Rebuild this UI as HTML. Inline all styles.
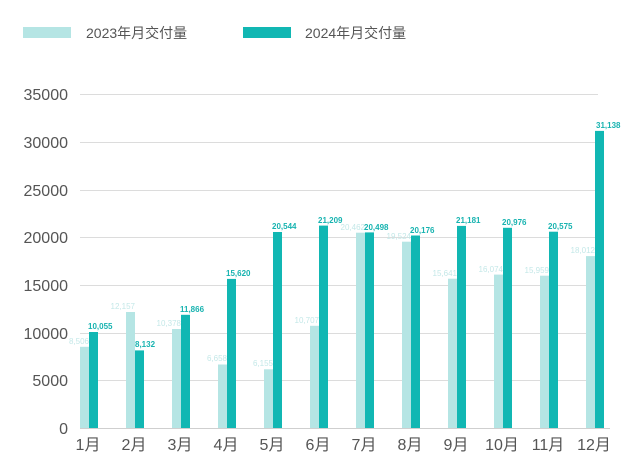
<!DOCTYPE html>
<html><head><meta charset="utf-8"><style>
html,body{margin:0;padding:0;background:#fff;}
svg{display:block;font-family:"Liberation Sans","Noto Sans CJK SC",sans-serif;}
.ax{fill:#555;font-size:16px;}
.lg{fill:#555;font-size:14px;}
.d{fill:#17b3b0;font-size:8px;font-weight:bold;}
.l{fill:#c4e8e8;font-size:8px;text-anchor:end;}
.gl{stroke:#dcdcdc;stroke-width:1;}
</style></head><body>
<svg width="640" height="475" viewBox="0 0 640 475" xmlns="http://www.w3.org/2000/svg">
<rect x="23" y="27" width="48" height="11" fill="#b5e5e4"/>
<text class="lg" x="86" y="38">2023年月交付量</text>
<rect x="243" y="27" width="48" height="11" fill="#11b7b3"/>
<text class="lg" x="305" y="38">2024年月交付量</text>

<g class="gl">
<line x1="80" y1="94.5" x2="598" y2="94.5"/>
<line x1="80" y1="142.5" x2="598" y2="142.5"/>
<line x1="80" y1="190.5" x2="598" y2="190.5"/>
<line x1="80" y1="237.5" x2="598" y2="237.5"/>
<line x1="80" y1="285.5" x2="598" y2="285.5"/>
<line x1="80" y1="333.5" x2="598" y2="333.5"/>
<line x1="80" y1="380.5" x2="598" y2="380.5"/>
<line x1="80" y1="428.5" x2="610" y2="428.5" stroke="#cfcfcf"/>
</g>
<g class="ax" text-anchor="end">
<text x="68" y="100">35000</text>
<text x="68" y="148">30000</text>
<text x="68" y="196">25000</text>
<text x="68" y="243">20000</text>
<text x="68" y="291">15000</text>
<text x="68" y="339">10000</text>
<text x="68" y="386">5000</text>
<text x="68" y="434">0</text>
</g>

<g fill="#b5e5e4">
<rect x="80" y="346.8" width="9" height="81.2"/>
<rect x="126" y="312" width="9" height="116"/>
<rect x="172" y="329" width="9" height="99"/>
<rect x="218" y="364.5" width="9" height="63.5"/>
<rect x="264" y="369.3" width="9" height="58.7"/>
<rect x="310" y="325.8" width="9" height="102.2"/>
<rect x="356" y="232.7" width="9" height="195.3"/>
<rect x="402" y="241.7" width="9" height="186.3"/>
<rect x="448" y="278.7" width="9" height="149.3"/>
<rect x="494" y="274.6" width="9" height="153.4"/>
<rect x="540" y="275.7" width="9" height="152.3"/>
<rect x="586" y="256.1" width="9" height="171.9"/>
</g>
<g fill="#11b7b3">
<rect x="89" y="332" width="9" height="96"/>
<rect x="135" y="350.4" width="9" height="77.6"/>
<rect x="181" y="314.8" width="9" height="113.2"/>
<rect x="227" y="278.9" width="9" height="149.1"/>
<rect x="273" y="232" width="9" height="196"/>
<rect x="319" y="225.6" width="9" height="202.4"/>
<rect x="365" y="232.4" width="9" height="195.6"/>
<rect x="411" y="235.5" width="9" height="192.5"/>
<rect x="457" y="225.9" width="9" height="202.1"/>
<rect x="503" y="227.8" width="9" height="200.2"/>
<rect x="549" y="231.7" width="9" height="196.3"/>
<rect x="595" y="130.9" width="9" height="297.1"/>
</g>

<text class="l" x="89" y="344">8,506</text>
<text class="l" x="135" y="309">12,157</text>
<text class="l" x="181" y="326">10,378</text>
<text class="l" x="227" y="361">6,658</text>
<text class="l" x="273" y="366">6,155</text>
<text class="l" x="319" y="323">10,707</text>
<text class="l" x="365" y="230">20,462</text>
<text class="l" x="411" y="239">19,524</text>
<text class="l" x="457" y="276">15,641</text>
<text class="l" x="503" y="272">16,074</text>
<text class="l" x="549" y="273">15,959</text>
<text class="l" x="595" y="253">18,012</text>

<text class="d" x="88" y="329">10,055</text>
<text class="d" x="135" y="347">8,132</text>
<text class="d" x="180" y="312">11,866</text>
<text class="d" x="226" y="276">15,620</text>
<text class="d" x="272" y="229">20,544</text>
<text class="d" x="318" y="223">21,209</text>
<text class="d" x="364" y="230">20,498</text>
<text class="d" x="410" y="233">20,176</text>
<text class="d" x="456" y="223">21,181</text>
<text class="d" x="502" y="225">20,976</text>
<text class="d" x="548" y="229">20,575</text>
<text class="d" x="596" y="128">31,138</text>

<g class="ax" text-anchor="middle">
<text x="88" y="450">1月</text>
<text x="134" y="450">2月</text>
<text x="180" y="450">3月</text>
<text x="226" y="450">4月</text>
<text x="272" y="450">5月</text>
<text x="318" y="450">6月</text>
<text x="364" y="450">7月</text>
<text x="410" y="450">8月</text>
<text x="456" y="450">9月</text>
<text x="502" y="450">10月</text>
<text x="548" y="450">11月</text>
<text x="594" y="450">12月</text>
</g>
</svg>
</body></html>
